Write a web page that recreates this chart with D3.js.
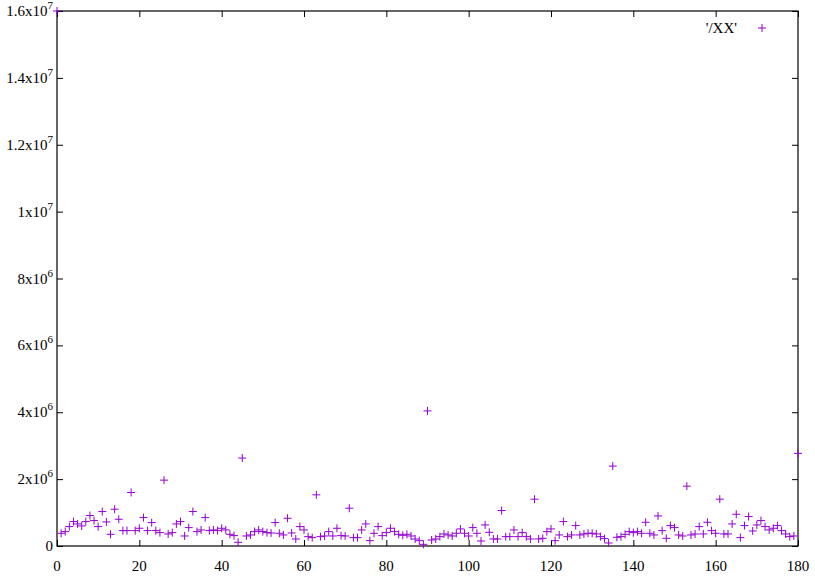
<!DOCTYPE html>
<html>
<head>
<meta charset="utf-8">
<script src="https://cdn.jsdelivr.net/npm/d3@7/dist/d3.min.js"></script>
<style>
  body { margin: 0; background: #fff; }
  svg text { font-family: "Liberation Serif", "DejaVu Serif", serif; font-size: 15px; fill: #000; }
</style>
</head>
<body>
<div id="chart"></div>
<script>
// series label
var seriesName = "'/XX'";

// one value per index 0..180
var values = [
  16000000, 380000, 430000, 580000, 730000, 660000, 600000, 730000, 910000, 760000,
  580000, 1030000, 720000, 350000, 1100000, 800000, 460000, 460000, 1600000, 460000,
  530000, 850000, 460000, 700000, 460000, 400000, 1970000, 360000, 400000, 660000,
  730000, 300000, 550000, 1030000, 430000, 480000, 850000, 460000, 480000, 460000,
  530000, 480000, 350000, 310000, 110000, 2630000, 300000, 330000, 430000, 480000,
  430000, 400000, 390000, 700000, 380000, 330000, 830000, 390000, 210000, 580000,
  480000, 280000, 250000, 1530000, 280000, 300000, 430000, 300000, 530000, 310000,
  300000, 1130000, 250000, 250000, 480000, 660000, 160000, 380000, 580000, 310000,
  400000, 530000, 430000, 350000, 320000, 350000, 300000, 210000, 160000, 50000,
  4040000, 180000, 210000, 280000, 360000, 330000, 300000, 380000, 510000, 380000,
  300000, 550000, 380000, 150000, 630000, 410000, 210000, 210000, 1060000, 280000,
  280000, 480000, 280000, 400000, 280000, 210000, 1400000, 210000, 230000, 430000,
  510000, 160000, 330000, 730000, 280000, 330000, 610000, 330000, 360000, 380000,
  380000, 360000, 280000, 220000, 90000, 2390000, 260000, 280000, 350000, 430000,
  400000, 430000, 380000, 710000, 380000, 330000, 900000, 460000, 230000, 610000,
  550000, 330000, 300000, 1790000, 330000, 360000, 580000, 360000, 710000, 460000,
  380000, 1400000, 360000, 360000, 660000, 950000, 250000, 610000, 880000, 450000,
  630000, 760000, 580000, 480000, 530000, 610000, 460000, 360000, 280000, 300000,
  2770000
];

var xTicks = [0, 20, 40, 60, 80, 100, 120, 140, 160, 180];
var yTicks = [0, 2e6, 4e6, 6e6, 8e6, 1e7, 1.2e7, 1.4e7, 1.6e7];
// mantissa / exponent pairs for the y labels
var yLabels = [["0", ""], ["2x10", "6"], ["4x10", "6"], ["6x10", "6"], ["8x10", "6"],
               ["1x10", "7"], ["1.2x10", "7"], ["1.4x10", "7"], ["1.6x10", "7"]];

(function () {
  var width = 815, height = 582;
  var pLeft = 57, pRight = 798, pTop = 11, pBottom = 546;
  var color = "#9400d3";

  var svg = d3.select("#chart").append("svg")
    .attr("width", width)
    .attr("height", height);

  var x = d3.scaleLinear().domain([0, 180]).range([pLeft, pRight]);
  var y = d3.scaleLinear().domain([0, 1.6e7]).range([pBottom, pTop]);

  // inward ticks on all four sides (gnuplot style)
  function noDomain(g) { g.select(".domain").remove(); }
  svg.append("g")
    .attr("transform", "translate(0," + pBottom + ")")
    .call(d3.axisBottom(x).tickValues(xTicks).tickSize(-6).tickFormat(""))
    .call(noDomain);
  svg.append("g")
    .attr("transform", "translate(0," + pTop + ")")
    .call(d3.axisTop(x).tickValues(xTicks).tickSize(-6).tickFormat(""))
    .call(noDomain);
  svg.append("g")
    .attr("transform", "translate(" + pLeft + ",0)")
    .call(d3.axisLeft(y).tickValues(yTicks).tickSize(-6).tickFormat(""))
    .call(noDomain);
  svg.append("g")
    .attr("transform", "translate(" + pRight + ",0)")
    .call(d3.axisRight(y).tickValues(yTicks).tickSize(-6).tickFormat(""))
    .call(noDomain);

  svg.selectAll(".tick line").attr("stroke", "#000");

  // border
  svg.append("rect")
    .attr("x", pLeft).attr("y", pTop)
    .attr("width", pRight - pLeft).attr("height", pBottom - pTop)
    .attr("fill", "none").attr("stroke", "#000").attr("stroke-width", 1.2);

  // x labels
  svg.selectAll(".xlab")
    .data(xTicks)
    .enter().append("text")
    .attr("class", "xlab")
    .attr("x", function (d) { return x(d); })
    .attr("y", 571)
    .attr("text-anchor", "middle")
    .text(function (d) { return d; });

  // y labels with superscript exponent
  var ylab = svg.selectAll(".ylab")
    .data(yTicks)
    .enter().append("text")
    .attr("class", "ylab")
    .attr("x", pLeft - 4)
    .attr("y", function (d) { return y(d) + 5; })
    .attr("text-anchor", "end");
  ylab.append("tspan")
    .text(function (d, i) { return yLabels[i][0]; });
  ylab.append("tspan")
    .attr("dy", -7)
    .style("font-size", "11px")
    .text(function (d, i) { return yLabels[i][1]; });

  // points as plus marks
  var s = 4;
  var pts = svg.append("g").attr("stroke", color).attr("stroke-width", 1);
  values.forEach(function (v, i) {
    var cx = x(i), cy = y(v);
    pts.append("path")
      .attr("d", "M" + (cx - s) + "," + cy + "H" + (cx + s) + "M" + cx + "," + (cy - s) + "V" + (cy + s));
  });

  // legend
  svg.append("text")
    .attr("x", 737)
    .attr("y", 33)
    .attr("text-anchor", "end")
    .text(seriesName);
  svg.append("path")
    .attr("d", "M" + (762 - s) + ",28H" + (762 + s) + "M762," + (28 - s) + "V" + (28 + s))
    .attr("stroke", color)
    .attr("stroke-width", 1);
})();
</script>
</body>
</html>
